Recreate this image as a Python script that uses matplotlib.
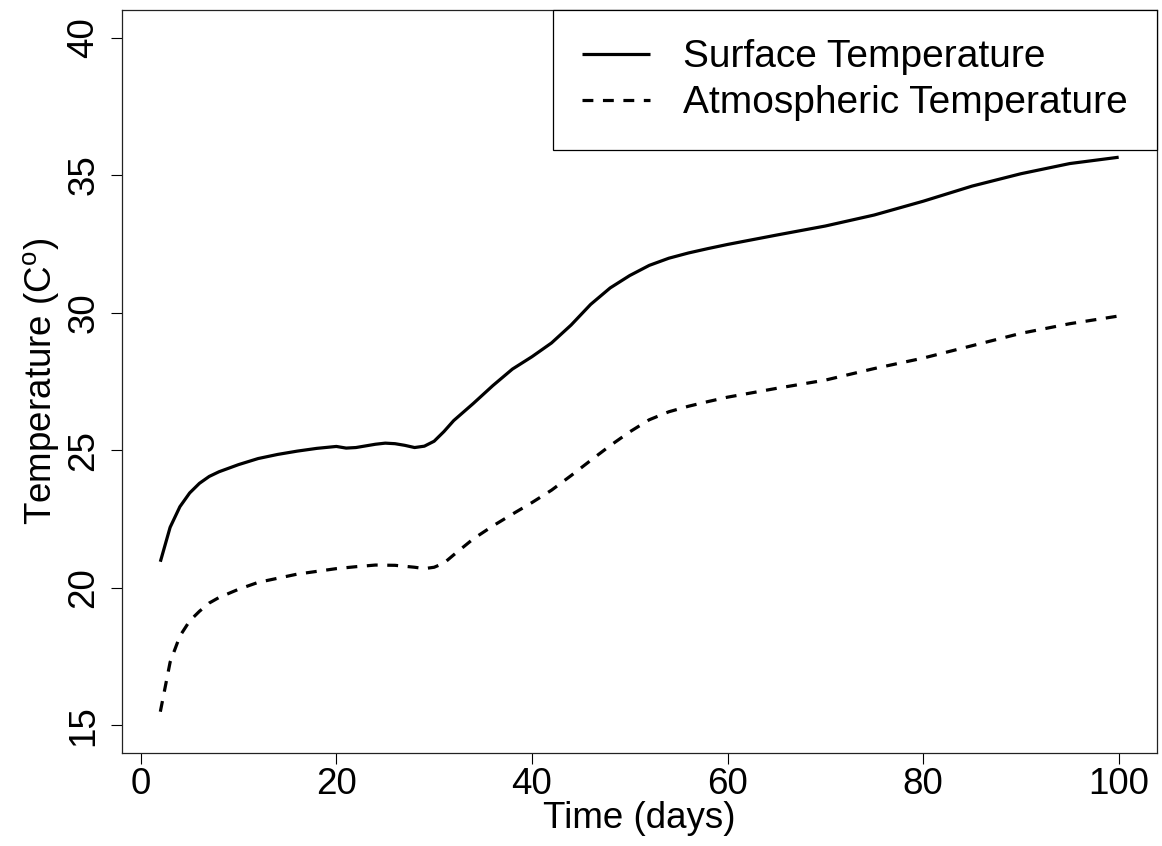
import matplotlib
matplotlib.use("Agg")
import matplotlib.pyplot as plt

plt.rcParams['font.family'] = ['Liberation Sans', 'DejaVu Sans']
plt.rcParams['mathtext.fontset'] = 'custom'
plt.rcParams['mathtext.rm'] = 'Liberation Sans'
plt.rcParams['mathtext.it'] = 'Liberation Sans:italic'

# Surface temperature readings
surf_days = [2, 3, 4, 5, 6, 7, 8, 10, 12, 14, 16, 18, 20, 21, 22, 24, 25, 26,
             27, 28, 29, 30, 31, 32, 34, 36, 38, 40, 42, 44, 46, 48, 50, 52,
             54, 56, 58, 60, 65, 70, 75, 80, 85, 90, 95, 100]
surf_temp = [20.95, 22.2, 22.95, 23.45, 23.8, 24.05, 24.22, 24.48, 24.7, 24.85,
             24.97, 25.07, 25.14, 25.08, 25.1, 25.22, 25.26, 25.24, 25.18, 25.1,
             25.15, 25.33, 25.68, 26.08, 26.7, 27.35, 27.95, 28.4, 28.9, 29.55,
             30.3, 30.9, 31.35, 31.72, 31.98, 32.17, 32.33, 32.48, 32.82, 33.15,
             33.55, 34.05, 34.6, 35.05, 35.42, 35.65]

# Atmospheric temperature readings
atm_days = [2, 3, 4, 5, 6, 7, 8, 10, 12, 14, 16, 18, 20, 22, 24, 26, 28, 29,
            30, 31, 32, 34, 36, 38, 40, 42, 44, 46, 48, 50, 52, 54, 56, 58, 60,
            65, 70, 75, 80, 85, 90, 95, 100]
atm_temp = [15.5, 17.3, 18.25, 18.8, 19.15, 19.45, 19.65, 19.95, 20.2, 20.35,
            20.5, 20.6, 20.7, 20.77, 20.83, 20.82, 20.75, 20.7, 20.75, 20.9,
            21.2, 21.78, 22.25, 22.68, 23.1, 23.55, 24.08, 24.63, 25.17, 25.67,
            26.11, 26.4, 26.6, 26.77, 26.93, 27.25, 27.55, 27.97, 28.35, 28.8,
            29.25, 29.6, 29.88]

x_ticks = [0, 20, 40, 60, 80, 100]
y_ticks = [15, 20, 25, 30, 35, 40]

FS = 26.5
LEG_FS = 28
fig = plt.figure(figsize=(11.62, 8.46), dpi=100)
ax = fig.add_axes([122/1162, 1 - 753/846, (1157-122)/1162, (753-10)/846])

ax.plot(surf_days, surf_temp, color='black', lw=2.3, solid_capstyle='butt',
        label='Surface Temperature')
ax.plot(atm_days, atm_temp, color='black', lw=2.3, linestyle=(0, (3.4, 3.0)),
        dash_capstyle='butt', label='Atmospheric Temperature')

ax.set_xlim(-1.92, 103.92)
ax.set_ylim(14, 41)
ax.set_xticks(x_ticks)
ax.set_yticks(y_ticks)
ax.tick_params(axis='both', length=8, width=0.8, labelsize=FS)
ax.tick_params(axis='x', pad=2)
ax.tick_params(axis='y', pad=7)
for lab in ax.get_yticklabels():
    lab.set_rotation(90)
    lab.set_va('center')
for sp in ax.spines.values():
    sp.set_linewidth(0.9)
    sp.set_color('#222222')

ax.set_xlabel('Time (days)', fontsize=FS, labelpad=-1)
ax.set_ylabel(r'Temperature (C$^{\mathrm{o}}$)', fontsize=FS, labelpad=4)

leg = ax.legend(loc='upper right', fontsize=LEG_FS, frameon=True, fancybox=False,
                edgecolor='black', borderaxespad=0, borderpad=0.75,
                handlelength=1.75, handletextpad=0.85, labelspacing=0.26)
leg.get_frame().set_linewidth(0.9)
leg.get_frame().set_alpha(None)

fig.savefig('out.png', dpi=100)
